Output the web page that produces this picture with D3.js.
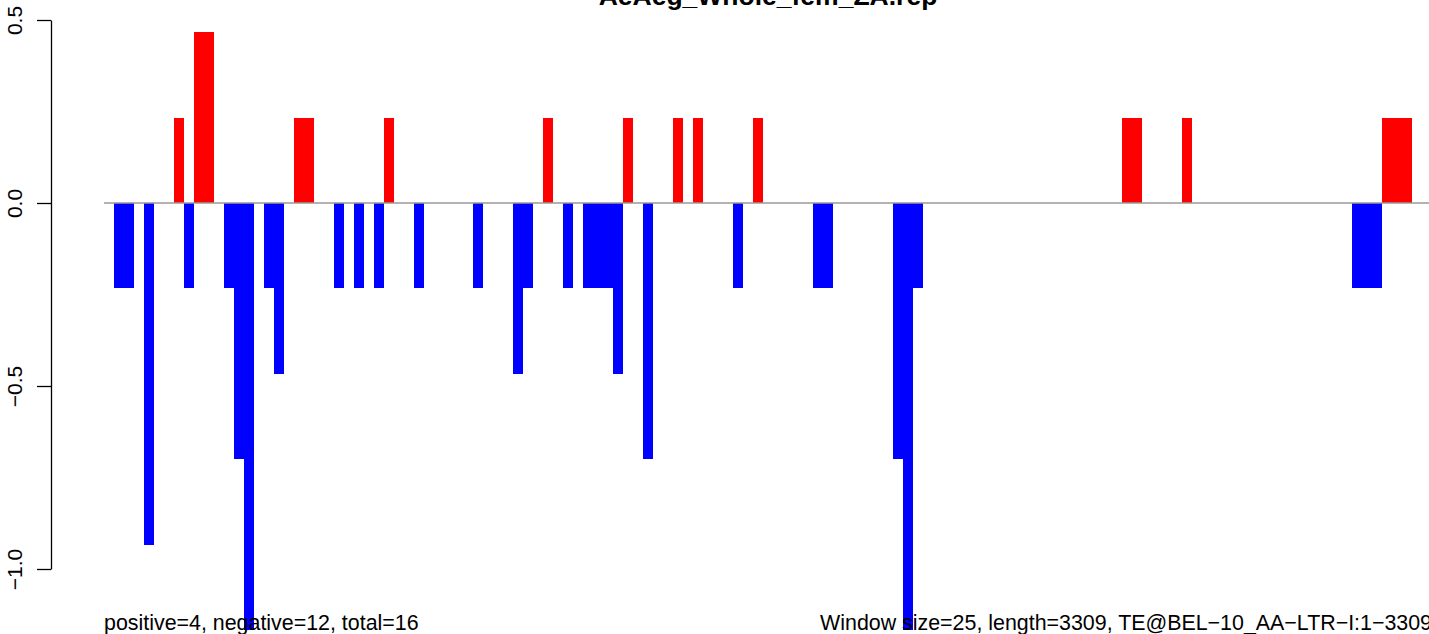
<!DOCTYPE html>
<html>
<head>
<meta charset="utf-8">
<script src="https://cdn.jsdelivr.net/npm/d3@7"></script>
<style>
body { margin: 0; background: #fff; }
text { font-family: "Liberation Sans", Arial, Helvetica, sans-serif; }
</style>
</head>
<body>
<script>
var Red = "#FF0000"
var Blue = "#0000FF"
var W = 1429, H = 634;

// window index (25 bp windows) and score
var posIndex = [7, 9, 10, 19, 20, 28, 44, 52, 57, 59, 65, 102, 103, 108, 128, 129, 130];
var posValue = [0.233, 0.467, 0.467, 0.233, 0.233, 0.233, 0.233, 0.233, 0.233, 0.233, 0.233, 0.233, 0.233, 0.233, 0.233, 0.233, 0.233];

var negIndex = [1, 2, 4, 8, 12, 13, 14, 16, 17, 23,
	25, 27, 31, 37, 41, 42, 46, 48, 49, 50,
	51, 54, 63, 71, 72, 79, 80, 81, 125, 126, 127];
var negValue = [-0.233, -0.233, -0.934, -0.233, -0.233, -0.700, -1.167, -0.233, -0.467, -0.233,
	-0.233, -0.233, -0.233, -0.233, -0.467, -0.233, -0.233, -0.233, -0.233, -0.233,
	-0.467, -0.700, -0.233, -0.233, -0.233, -0.700, -1.167, -0.233, -0.233, -0.233, -0.233];

var nWindows = 133;
var yTicks = [-1.0, -0.5, 0.0, 0.5];

var title = "AeAeg_Whole_fem_ZA.rep";
var leftNote = "positive=4, negative=12, total=16";
var rightNote = "Window size=25, length=3309, TE@BEL\u221210_AA\u2212LTR\u2212I:1\u22123309";

var data = [];
for (var k = 0; k < posIndex.length; k++) data.push({i: posIndex[k], v: posValue[k]});
for (var k = 0; k < negIndex.length; k++) data.push({i: negIndex[k], v: negValue[k]});

var svg = d3.select("body").append("svg")
	.attr("width", W)
	.attr("height", H);

var x = d3.scaleLinear().domain([0, nWindows]).range([104, 1432]);
var y = d3.scaleLinear().domain([-1, 0.5]).range([569, 20]);

// Bars
svg.selectAll(".bar").data(data).enter()
	.append("rect")
	.attr("class", "bar")
	.attr("x", d => x(d.i))
	.attr("width", d => x(d.i + 1) - x(d.i))
	.attr("y", d => d.v > 0 ? y(d.v) : y(0))
	.attr("height", d => Math.abs(y(d.v) - y(0)))
	.attr("fill", d => d.v > 0 ? Red : Blue)
	.attr("shape-rendering", "crispEdges");

// zero line
svg.append("line")
	.attr("x1", x(0))
	.attr("x2", x(nWindows))
	.attr("y1", y(0))
	.attr("y2", y(0))
	.attr("stroke", "#9a9a9a")
	.attr("stroke-width", 1.6);

// Y axis
var yAxis = svg.append("g")
	.attr("transform", "translate(51,0)")
	.call(d3.axisLeft(y).tickValues(yTicks).tickFormat(d3.format(".1f")).tickSize(14).tickSizeOuter(0));

yAxis.select(".domain").attr("stroke-width", 1.3);
yAxis.selectAll(".tick line").attr("stroke-width", 1.3);
yAxis.selectAll(".tick text")
	.attr("x", null)
	.attr("dy", null)
	.attr("text-anchor", "middle")
	.attr("transform", "translate(-29,0) rotate(-90)")
	.attr("font-size", "21px")
	.attr("font-family", "Liberation Sans, Arial, sans-serif")
	.attr("fill", "#000");

// Title
svg.append("text")
	.attr("x", (x(0) + x(nWindows)) / 2)
	.attr("y", 5)
	.attr("text-anchor", "middle")
	.attr("font-size", "26.5px")
	.attr("font-weight", "bold")
	.text(title);

// Notes
svg.append("text")
	.attr("x", x(0))
	.attr("y", 630)
	.attr("font-size", "21.4px")
	.text(leftNote);

svg.append("text")
	.attr("x", x(nWindows))
	.attr("y", 630)
	.attr("text-anchor", "end")
	.attr("font-size", "21.4px")
	.text(rightNote);
</script>
</body>
</html>
